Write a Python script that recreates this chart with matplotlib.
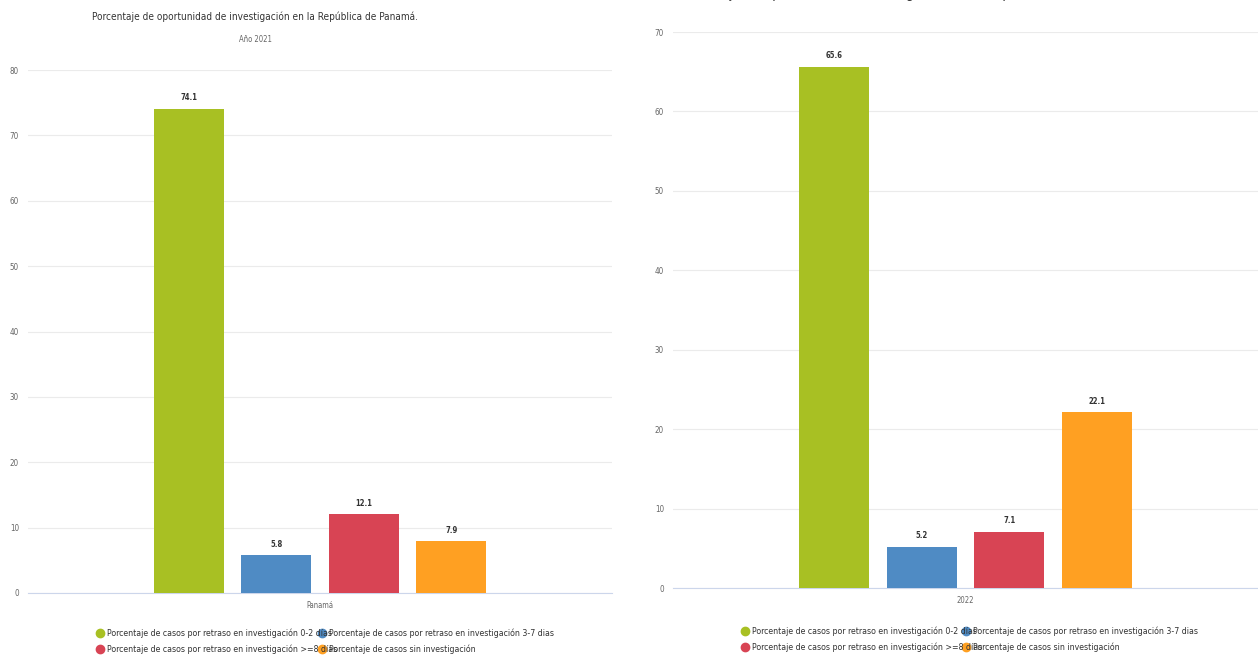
import matplotlib.pyplot as plt
from matplotlib.lines import Line2D

# datos
series = ['Porcentaje de casos por retraso en investigación 0-2 días',
          'Porcentaje de casos por retraso en investigación 3-7 dias',
          'Porcentaje de casos por retraso en investigación >=8 días',
          'Porcentaje de casos sin investigación']
colores = ['#a8c023', '#4f8bc4', '#d84454', '#ffa022']

cat_2021 = ['Panamá']
val_2021 = [74.1, 5.8, 12.1, 7.9]
cat_2022 = ['2022']
val_2022 = [65.6, 5.2, 7.1, 22.1]

titulo = 'Porcentaje de oportunidad de investigación en la República de Panamá.'
subtitulo = 'Año 2021'

W, H = 1258, 656
fig = plt.figure(figsize=(W / 100, H / 100), dpi=100)
plt.rcParams['font.family'] = ['DejaVu Sans']
COND = dict(fontstretch='condensed')


def panel(rect, cats, vals, ymax, yticks):
    ax = fig.add_axes(rect)
    slot = 0.15
    for i, (v, c) in enumerate(zip(vals, colores)):
        x = (i - 1.5) * slot
        ax.bar(x, v, width=0.12, color=c, zorder=3)
        ax.text(x, v + ymax * 0.012, f'{v:.1f}', ha='center', va='bottom',
                fontsize=5.5, fontweight='bold', color='#333333', **COND)
    ax.set_xlim(-0.5, 0.5)
    ax.set_ylim(0, ymax)
    ax.set_yticks(yticks)
    ax.set_yticklabels([str(t) for t in yticks], fontsize=5.8, color='#666666', **COND)
    ax.set_xticks([0])
    ax.set_xticklabels(cats, fontsize=5.5, color='#666666', **COND)
    ax.tick_params(axis='both', length=0)
    ax.tick_params(axis='y', pad=6.5)
    ax.tick_params(axis='x', pad=6)
    ax.grid(axis='y', color='#ebebeb', linewidth=0.8, zorder=0)
    for s in ['top', 'right', 'left']:
        ax.spines[s].set_visible(False)
    ax.spines['bottom'].set_color('#ccd6eb')
    ax.spines['bottom'].set_linewidth(0.8)
    return ax


panel([28 / W, 63 / H, 584 / W, 523 / H], cat_2021, val_2021, 80, list(range(0, 81, 10)))
panel([673 / W, 68 / H, 585 / W, 556 / H], cat_2022, val_2022, 70, list(range(0, 71, 10)))

fig.text(255 / W, 1 - 17 / H, titulo, ha='center', va='center', fontsize=7.2, color='#333333', **COND)
fig.text(255 / W, 1 - 40 / H, subtitulo, ha='center', va='center', fontsize=5.5, color='#666666', **COND)
# titulo del segundo panel, cortado por el borde superior
fig.text(900 / W, 1 + 2 / H, titulo, ha='center', va='baseline', fontsize=10, color='#333333', **COND)


def leyenda(x1, x2, y1, y2):
    pos = [(x1, y1), (x2, y1), (x1, y2), (x2, y2)]
    for (x, y), s, c in zip(pos, series, colores):
        fig.text((x + 7) / W, 1 - y / H, s, ha='left', va='center',
                 fontsize=6.3, color='#333333', **COND)
        fig.add_artist(Line2D([x / W], [1 - y / H], marker='o', markersize=6,
                              color=c, linestyle='none'))


leyenda(100, 322, 633, 649)
leyenda(745, 966, 631, 647)

fig.savefig('out.png', dpi=100, facecolor='white')
